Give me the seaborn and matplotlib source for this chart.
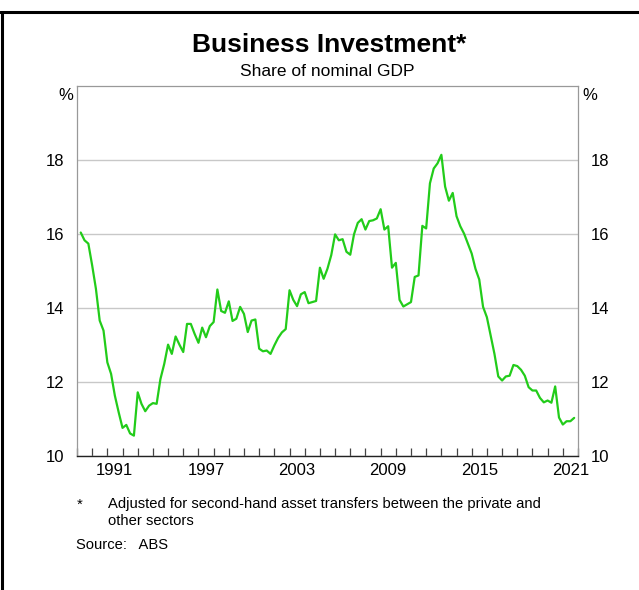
import pandas as pd
import numpy as np
import matplotlib
matplotlib.use('Agg')
import matplotlib.pyplot as plt
import matplotlib.dates as mdates
import seaborn as sns
from matplotlib.lines import Line2D

# Quarterly business investment, % of nominal GDP
start_quarter = '1989Q1'
end_quarter = '2021Q3'
investment_share = [
    16.04, 15.83, 15.74, 15.15, 14.52, 13.66, 13.39, 12.53, 12.22, 11.63,
    11.18, 10.76, 10.84, 10.61, 10.55, 11.72, 11.41, 11.21, 11.36, 11.43,
    11.41, 12.08, 12.49, 13.01, 12.76, 13.23, 13.01, 12.81, 13.57, 13.57,
    13.30, 13.06, 13.47, 13.21, 13.51, 13.62, 14.50, 13.92, 13.87, 14.18,
    13.65, 13.71, 14.03, 13.84, 13.35,
    13.66, 13.69, 12.90, 12.83, 12.85, 12.76, 12.99, 13.19, 13.34, 13.43,
    14.48, 14.22, 14.05, 14.37, 14.43, 14.13, 14.16, 14.19, 15.09, 14.79,
    15.06, 15.43, 15.99, 15.83, 15.86, 15.52, 15.44, 15.99, 16.30, 16.40,
    16.12, 16.35, 16.37, 16.42, 16.67, 16.12, 16.21, 15.09, 15.22, 14.22,
    14.04, 14.10, 14.16, 14.84, 14.88,
    16.22, 16.15, 17.37, 17.77, 17.91, 18.14, 17.28, 16.90, 17.11, 16.48,
    16.21, 16.01, 15.74, 15.47, 15.06, 14.77, 14.03, 13.75, 13.26, 12.76,
    12.15, 12.04, 12.15, 12.17, 12.46, 12.43, 12.33, 12.17, 11.86, 11.77,
    11.77, 11.57, 11.45, 11.50, 11.44, 11.88, 11.04, 10.85, 10.94, 10.94,
    11.03,
]
label_years = [1991, 1997, 2003, 2009, 2015, 2021]
y_ticks = [10, 12, 14, 16, 18]

quarters = pd.period_range(start_quarter, end_quarter, freq='Q')
df = pd.DataFrame({'date': quarters.to_timestamp(how='end'), 'share': investment_share})

sns.set_theme(style='white')
plt.rcParams['font.family'] = ['Liberation Sans', 'DejaVu Sans']
plt.rcParams['text.color'] = 'black'

fig = plt.figure(figsize=(6.39, 5.9), dpi=100)
ax = fig.add_axes([77 / 639, 1 - 456 / 590, 501 / 639, 370 / 590])

sns.lineplot(data=df, x='date', y='share', color='#22cc1a', linewidth=1.6, ax=ax)

ax.set_ylim(10, 20)
ax.set_yticks(y_ticks)
ax.set_xlim(pd.Timestamp('1989-01-01'), pd.Timestamp('2022-01-01'))
ax.set_xticks([pd.Timestamp(f'{y}-07-01') for y in label_years])
ax.set_xticklabels([str(y) for y in label_years])
ax.xaxis.set_minor_locator(mdates.YearLocator())
ax.set_xlabel('')
ax.set_ylabel('')

ax.tick_params(axis='x', which='major', length=0, labelsize=12, pad=5, labelcolor='black')
ax.tick_params(axis='x', which='minor', bottom=True, direction='in', length=6,
               width=0.9, color='#444444')
ax.tick_params(axis='y', which='both', left=False, right=False, labelleft=True,
               labelright=True, labelsize=12, pad=3, labelcolor='black')

ax.grid(axis='y', color='#c8c8c8', linewidth=1.0)
ax.set_axisbelow(True)

for side in ['left', 'right', 'top']:
    ax.spines[side].set_color('#999999')
    ax.spines[side].set_linewidth(0.9)
ax.spines['bottom'].set_color('#222222')
ax.spines['bottom'].set_linewidth(1.0)

ax.text(-0.008, 0.995, '%', transform=ax.transAxes, ha='right', va='top', fontsize=12)
ax.text(1.008, 0.995, '%', transform=ax.transAxes, ha='left', va='top', fontsize=12)

# titles
fig.text(329 / 639, 1 - 45 / 590, 'Business Investment*', ha='center', va='center',
         fontsize=19, fontweight='bold')
fig.text(327 / 639, 1 - 72 / 590, 'Share of nominal GDP', ha='center', va='center',
         fontsize=12.5)

# footnotes
fig.text(77 / 639, 1 - 505 / 590, '*', ha='left', va='center', fontsize=10.6)
fig.text(108 / 639, 1 - 504 / 590, 'Adjusted for second-hand asset transfers between the private and',
         ha='left', va='center', fontsize=10.6)
fig.text(108 / 639, 1 - 521 / 590, 'other sectors', ha='left', va='center', fontsize=10.6)
fig.text(76 / 639, 1 - 545 / 590, 'Source:   ABS', ha='left', va='center', fontsize=10.6)

# frame from the original screenshot
fig.add_artist(Line2D([0, 1], [1 - 12 / 590] * 2, color='black', lw=2.2,
                      transform=fig.transFigure))
fig.add_artist(Line2D([2 / 639] * 2, [0, 1 - 12 / 590], color='black', lw=2.2,
                      transform=fig.transFigure))

fig.savefig('out.png', dpi=100)
